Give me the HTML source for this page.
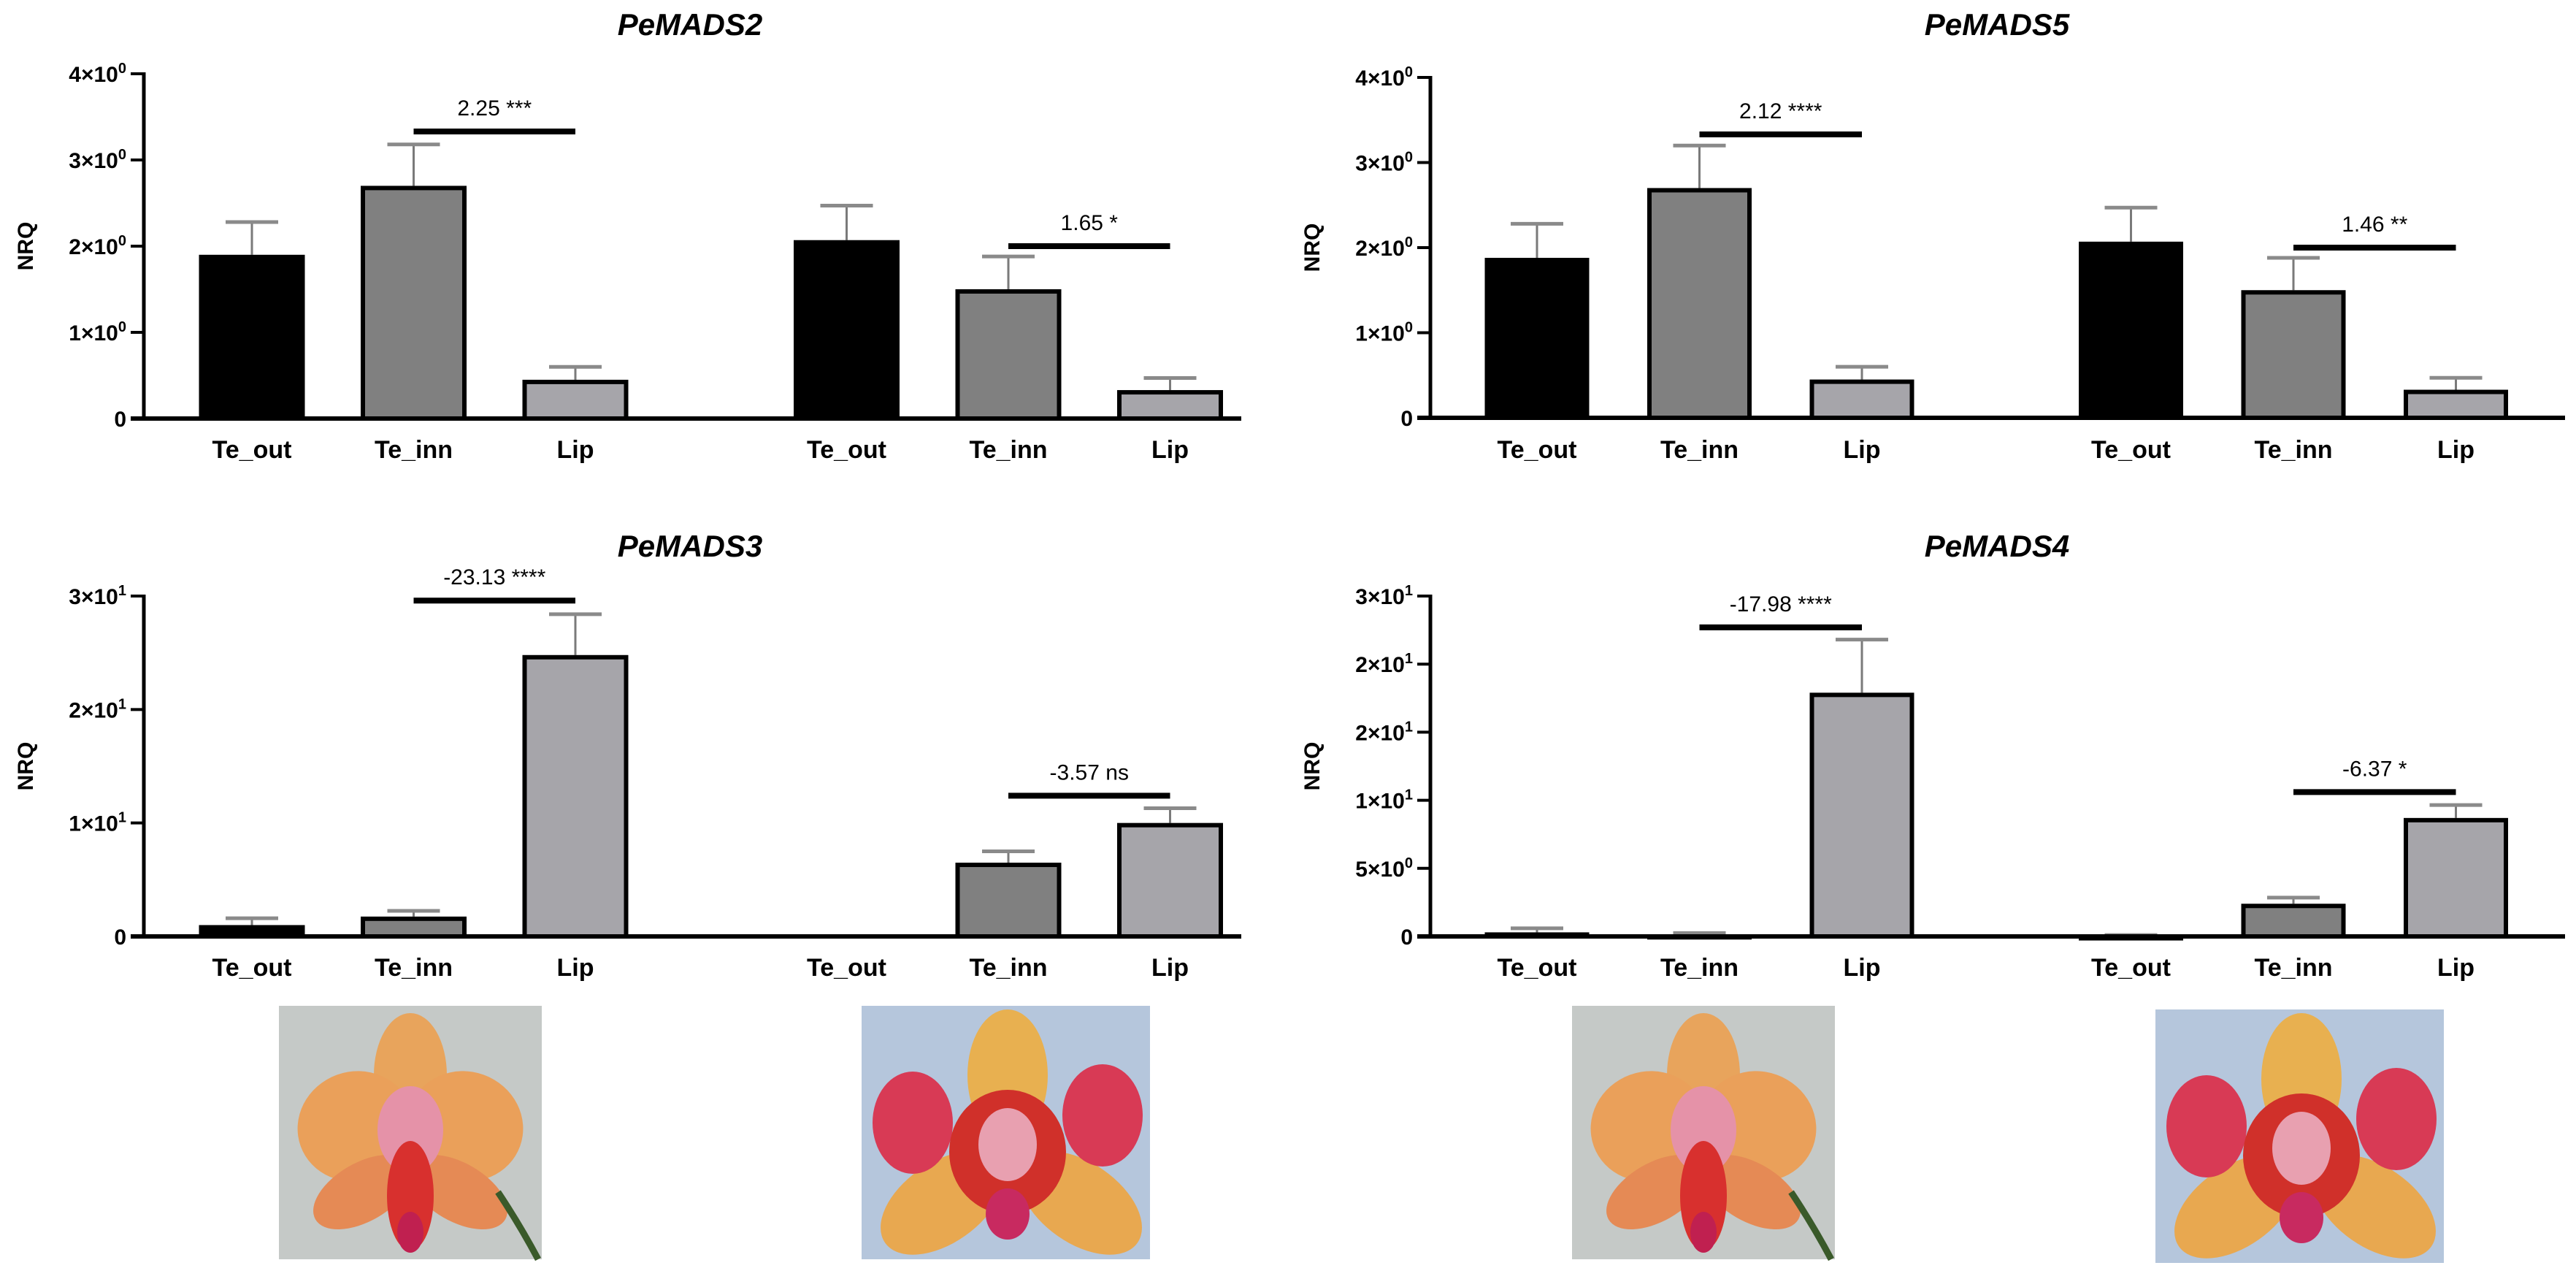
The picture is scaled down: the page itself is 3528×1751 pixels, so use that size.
<!DOCTYPE html>
<html><head><meta charset="utf-8"><style>
html,body{margin:0;padding:0;background:#fff;}
svg{display:block;}
text{font-family:"Liberation Sans",Arial,sans-serif;}
</style></head><body>
<svg id="fig" width="3528" height="1751" viewBox="0 0 3528 1751" xmlns="http://www.w3.org/2000/svg">
<g id="charts"></g>
<g id="photos">
  <defs>
    <g id="orchidA">
      <rect x="0" y="0" width="360" height="347" fill="#c5c9c7"/>
      <ellipse cx="180" cy="95" rx="50" ry="85" fill="#e8a45c"/>
      <ellipse cx="105" cy="165" rx="80" ry="75" fill="#eaa05a" transform="rotate(-20 105 165)"/>
      <ellipse cx="255" cy="165" rx="80" ry="75" fill="#eaa05a" transform="rotate(20 255 165)"/>
      <ellipse cx="115" cy="255" rx="75" ry="40" fill="#e58a55" transform="rotate(-30 115 255)"/>
      <ellipse cx="245" cy="255" rx="75" ry="40" fill="#e58a55" transform="rotate(30 245 255)"/>
      <ellipse cx="180" cy="170" rx="45" ry="60" fill="#e592a8"/>
      <ellipse cx="180" cy="260" rx="32" ry="75" fill="#d8302e"/>
      <ellipse cx="180" cy="310" rx="18" ry="28" fill="#c02050"/>
      <path d="M300 255 Q330 300 355 347" stroke="#3a5a2a" stroke-width="9" fill="none"/>
    </g>
    <g id="orchidB">
      <rect x="0" y="0" width="395" height="347" fill="#b5c6dc"/>
      <ellipse cx="200" cy="95" rx="55" ry="90" fill="#e8b050"/>
      <ellipse cx="110" cy="270" rx="95" ry="55" fill="#e8a850" transform="rotate(-35 110 270)"/>
      <ellipse cx="300" cy="270" rx="95" ry="55" fill="#e8a850" transform="rotate(35 300 270)"/>
      <ellipse cx="70" cy="160" rx="55" ry="70" fill="#d83a55"/>
      <ellipse cx="330" cy="150" rx="55" ry="70" fill="#d83a55"/>
      <ellipse cx="200" cy="200" rx="80" ry="85" fill="#d0302a"/>
      <ellipse cx="200" cy="190" rx="40" ry="50" fill="#e8a0b0"/>
      <ellipse cx="200" cy="285" rx="30" ry="35" fill="#c82a60"/>
    </g>
  </defs>
  <use href="#orchidA" x="382" y="1377"/>
  <use href="#orchidB" x="1180" y="1377"/>
  <use href="#orchidA" x="2153" y="1377"/>
  <use href="#orchidB" x="2952" y="1382"/>
</g>
</svg>
<script>
const categories = ["Te_out","Te_inn","Lip","Te_out","Te_inn","Lip"];
const fills = ["#000000","#808080","#a6a5aa","#000000","#808080","#a6a5aa"];

const mads2Values = [1.9, 2.7, 0.45, 2.07, 1.5, 0.33];
const mads2Upper  = [2.28, 3.18, 0.6, 2.47, 1.88, 0.47];
const mads2Sig    = [[1,2,3.33,"2.25 ***"],[4,5,2.0,"1.65 *"]];
const mads2Ticks  = [0,1,2,3,4];
const mads2TickLabels = [["0",""],["1×10","0"],["2×10","0"],["3×10","0"],["4×10","0"]];

const mads5Values = [1.88, 2.7, 0.45, 2.07, 1.5, 0.33];
const mads5Upper  = [2.28, 3.2, 0.6, 2.47, 1.88, 0.47];
const mads5Sig    = [[1,2,3.33,"2.12 ****"],[4,5,2.0,"1.46 **"]];
const mads5Ticks  = [0,1,2,3,4];
const mads5TickLabels = [["0",""],["1×10","0"],["2×10","0"],["3×10","0"],["4×10","0"]];

const mads3Values = [1.0, 1.75, 24.8, 0, 6.5, 10.0];
const mads3Upper  = [1.6, 2.25, 28.4, 0, 7.5, 11.3];
const mads3Sig    = [[1,2,29.6,"-23.13 ****"],[4,5,12.4,"-3.57 ns"]];
const mads3Ticks  = [0,10,20,30];
const mads3TickLabels = [["0",""],["1×10","1"],["2×10","1"],["3×10","1"]];

const mads4Values = [0.3, 0.12, 17.9, 0.05, 2.4, 8.7];
const mads4Upper  = [0.6, 0.25, 21.8, 0.1, 2.85, 9.65];
const mads4Sig    = [[1,2,22.7,"-17.98 ****"],[4,5,10.6,"-6.37 *"]];
const mads4Ticks  = [0,5,10,15,20,25];
const mads4TickLabels = [["0",""],["5×10","0"],["1×10","1"],["2×10","1"],["2×10","1"],["3×10","1"]];

const NS = "http://www.w3.org/2000/svg";
const root = document.getElementById("charts");
function mk(tag, attrs, parent){
  const e = document.createElementNS(NS, tag);
  for (const k in attrs) e.setAttribute(k, attrs[k]);
  (parent||root).appendChild(e);
  return e;
}

function drawPanel(cfg){
  const g = mk("g", {});
  
  
  const yMax = cfg.ticks[cfg.ticks.length-1];
  const y = v => cfg.y0 - (v / yMax) * (cfg.y0 - cfg.yTop);
  const x = i => cfg.x0 + i * cfg.step + (i >= 3 ? cfg.gap : 0);

  const t = mk("text", {x: cfg.titleX, y: cfg.titleY, "text-anchor":"middle", "font-size":42, "font-weight":"bold", "font-style":"italic", fill:"#000"}, g);
  t.textContent = cfg.title;
  
  

  const yl = mk("text", {x:0, y:0, transform:`translate(${cfg.axisX-152},${(cfg.y0+cfg.yTop)/2}) rotate(-90)`, "text-anchor":"middle", "font-size":30, "font-weight":"bold", fill:"#000"}, g);
  yl.textContent = "NRQ";
  
  

  // bars
  for (let i=0;i<categories.length;i++){
    const v = cfg.values[i], up = cfg.upper[i];
    const cx = x(i);
    if (up > v){
      const el = mk("line", {x1:cx, x2:cx, y1:y(v), y2:y(up), stroke:"#7a7a7a", "stroke-width":3}, g);
      
      
      const cap = mk("line", {x1:cx-36, x2:cx+36, y1:y(up), y2:y(up), stroke:"#8a8a8a", "stroke-width":5}, g);
      
      
    }
    const h = Math.max(cfg.y0 - y(v), 0);
    if (h > 0.5){
      const r = mk("rect", {x:cx-cfg.bw/2+3, y:y(v)+3, width:cfg.bw-6, height:Math.max(h-3,0.5), fill:fills[i], stroke:"#000", "stroke-width":6}, g);
      
      
    }
    const lb = mk("text", {x:cx, y:cfg.xLabelY, "text-anchor":"middle", "font-size":34, "font-weight":"bold", fill:"#000"}, g);
    lb.textContent = categories[i];
    
    
  }

  // axes
  const ax = mk("line", {x1:cfg.axisX, x2:cfg.axisX, y1:cfg.yTop-2, y2:cfg.y0+3, stroke:"#000", "stroke-width":5}, g);
  
  
  const xa = mk("line", {x1:cfg.axisX-18, x2:cfg.xEnd, y1:cfg.y0, y2:cfg.y0, stroke:"#000", "stroke-width":6}, g);
  
  
  for (let k=0;k<cfg.ticks.length;k++){
    const ty = y(cfg.ticks[k]);
    const tk = mk("line", {x1:cfg.axisX-18, x2:cfg.axisX, y1:ty, y2:ty, stroke:"#000", "stroke-width":4}, g);
    
    
    const tl = mk("text", {x:cfg.axisX-24, y:ty+11, "text-anchor":"end", "font-size":30, "font-weight":"bold", fill:"#000"}, g);
    
    
    const lab = cfg.tickLabels[k];
    const s1 = mk("tspan", {}, tl); s1.textContent = lab[0];
    if (lab[1]){ const s2 = mk("tspan", {dy:-12, "font-size":20}, tl); s2.textContent = lab[1]; }
  }

  // significance
  for (const s of cfg.sig){
    const sy = y(s[2]);
    const b = mk("line", {x1:x(s[0]), x2:x(s[1]), y1:sy, y2:sy, stroke:"#000", "stroke-width":8}, g);
    
    
    const st = mk("text", {x:(x(s[0])+x(s[1]))/2, y:sy-22, "text-anchor":"middle", "font-size":30, fill:"#000"}, g);
    st.textContent = s[3];
    
    
  }
}

drawPanel({name:"chart-pemads2", title:"PeMADS2", titleX:945, titleY:48, axisX:197, xEnd:1700, y0:573, yTop:101,
  x0:345, step:221.5, gap:150, bw:145, xLabelY:627, values:mads2Values, upper:mads2Upper, sig:mads2Sig, ticks:mads2Ticks, tickLabels:mads2TickLabels});
drawPanel({name:"chart-pemads5", title:"PeMADS5", titleX:2735, titleY:48, axisX:1959, xEnd:3513, y0:572, yTop:106,
  x0:2105, step:222.5, gap:146, bw:143, xLabelY:627, values:mads5Values, upper:mads5Upper, sig:mads5Sig, ticks:mads5Ticks, tickLabels:mads5TickLabels});
drawPanel({name:"chart-pemads3", title:"PeMADS3", titleX:945, titleY:762, axisX:197, xEnd:1700, y0:1282, yTop:816,
  x0:345, step:221.5, gap:150, bw:145, xLabelY:1336, values:mads3Values, upper:mads3Upper, sig:mads3Sig, ticks:mads3Ticks, tickLabels:mads3TickLabels});
drawPanel({name:"chart-pemads4", title:"PeMADS4", titleX:2735, titleY:762, axisX:1959, xEnd:3513, y0:1282, yTop:816,
  x0:2105, step:222.5, gap:146, bw:143, xLabelY:1336, values:mads4Values, upper:mads4Upper, sig:mads4Sig, ticks:mads4Ticks, tickLabels:mads4TickLabels});
</script>
</body></html>
